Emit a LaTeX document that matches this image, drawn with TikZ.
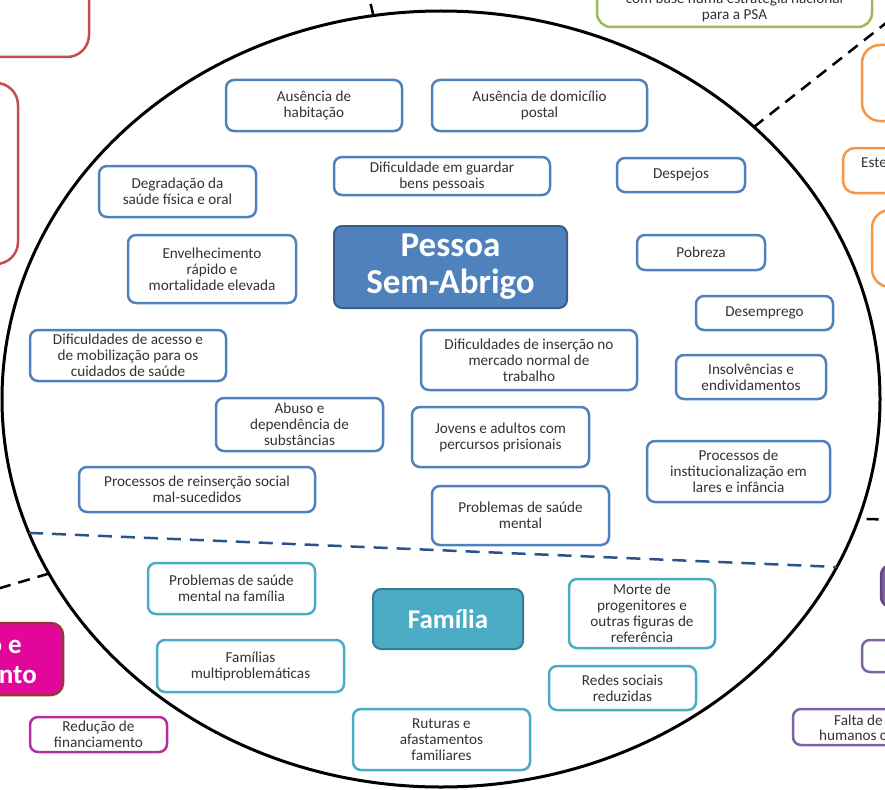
\documentclass[tikz,border=0pt]{standalone}
\usepackage{fontspec}
\setmainfont{Carlito}
\usetikzlibrary{shapes.geometric}
\definecolor{causeblue}{HTML}{4F81BD}
\definecolor{psaedge}{HTML}{385D8A}
\definecolor{famteal}{HTML}{4BACC6}
\definecolor{famedge}{HTML}{357D91}
\definecolor{linenavy}{HTML}{2B538A}
\definecolor{txtgray}{HTML}{333333}
\definecolor{outred}{HTML}{C0504D}
\definecolor{outgreen}{HTML}{9BBB59}
\definecolor{outorange}{HTML}{F79646}
\definecolor{outpurple}{HTML}{8064A2}
\definecolor{purpedge}{HTML}{5F4B7E}
\definecolor{outmagenta}{HTML}{E3069A}
\definecolor{magedge}{HTML}{943634}
\definecolor{finmagenta}{HTML}{B42FA0}
\begin{document}
\begin{tikzpicture}[x=1pt, y=-1pt,
  box/.style={rounded corners=8pt, line width=2.5pt, fill=white, text=txtgray,
    align=center, inner sep=0pt, font=\fontsize{15.2}{16}\selectfont},
  cause/.style={box, draw=causeblue},
  famcause/.style={box, draw=famteal},
  outbox/.style={rounded corners=22pt, line width=2.5pt, fill=white, inner sep=0pt},
  txt/.style={text=txtgray, inner sep=0pt, align=center, font=\fontsize{15.2}{16}\selectfont},
  bigtxt/.style={text=white, inner sep=0pt, font=\bfseries\fontsize{27}{30}\selectfont},
  border/.style={black, line width=2.5pt, dash pattern=on 12pt off 8pt},
  split/.style={linenavy, line width=2.5pt, dash pattern=on 14pt off 9pt}]
  \useasboundingbox (0,0) rectangle (885,789);
  \clip (0,0) rectangle (885,789);

  \node[draw, ellipse, line width=3pt, outer sep=0pt, minimum width=878, minimum height=776] (circ) at (441,399) {};
  \coordinate (n end) at (365,-20);
  \coordinate (ne end) at (900,12);
  \coordinate (sw end) at (-20,594);
  \coordinate (e end) at (900,520);
  \draw[border] (circ.100) -- (n end);
  \draw[border] (circ.41.6) -- (ne end);
  \draw[border] (circ.204.8) -- (sw end);
  \draw[border, dash phase=12pt] (circ.-16.1) -- (e end);
  \draw[split] (circ.198.6) -- (circ.-23.8);

  % caixas de fora
  \node[outbox, draw=outred, minimum width=209, minimum height=117] (red a) at (-15.5,-1.5) {};
  \node[outbox, draw=outred, minimum width=168, minimum height=181] (red b) at (-66,173.5) {};
  \node[outbox, draw=outgreen, rounded corners=14pt, minimum width=275, minimum height=80] (psa plan) at (734.5,-13) {};
  \node[txt] (psa plan text) at (734.5,7) {com base numa estratégia nacional\\para a PSA};
  \node[outbox, draw=outorange, rounded corners=18pt, minimum width=138, minimum height=76] (orange a) at (931,83) {};
  \node[outbox, draw=outorange, rounded corners=12pt, minimum width=157, minimum height=45] (orange b) at (921.5,170.5) {};
  \node[txt, anchor=west] (orange b text) at (861,163) {Este};
  \node[outbox, draw=outorange, rounded corners=18pt, minimum width=128, minimum height=77] (orange c) at (936,248.5) {};
  \node[outbox, draw=purpedge, fill=outpurple, rounded corners=10pt, minimum width=118, minimum height=42] (purple a) at (940,586) {};
  \node[outbox, draw=outpurple, rounded corners=8pt, minimum width=138, minimum height=32] (purple b) at (931,656) {};
  \node[outbox, draw=outpurple, rounded corners=8pt, minimum width=207, minimum height=36] (purple c) at (896.5,727) {};
  \node[txt, anchor=west] (purple c top) at (834,720) {Falta de};
  \node[txt, anchor=west] (purple c bottom) at (819,735) {humanos c};
  \node[outbox, draw=magedge, fill=outmagenta, rounded corners=12pt, minimum width=213, minimum height=72] (funding) at (-43.5,659) {};
  \node[bigtxt, anchor=east] (funding top) at (22,647) {o e};
  \node[bigtxt, anchor=east] (funding bottom) at (37,675) {nto};
  \node[box, draw=finmagenta, minimum width=137, minimum height=35] (cut) at (98.5,734.5) {Redução de\\financiamento};

  % pessoa sem-abrigo
  \node[box, draw=psaedge, fill=causeblue, text=white, line width=2pt,
    font=\bfseries\fontsize{35}{37}\selectfont, minimum width=233, minimum height=82] (psa) at (450.5,267) {Pessoa\\Sem-Abrigo};
  \node[cause, minimum width=176, minimum height=51] (housing) at (314,105.5) {Ausência de\\habitação};
  \node[cause, minimum width=215, minimum height=51] (address) at (539.5,105.5) {Ausência de domicílio\\postal};
  \node[cause, minimum width=216, minimum height=38] (belongings) at (442,176) {Dificuldade em guardar\\bens pessoais};
  \node[cause, minimum width=128, minimum height=34] (evictions) at (681,175) {Despejos};
  \node[cause, minimum width=157, minimum height=51] (health) at (177.5,191.5) {Degradação da\\saúde física e oral};
  \node[cause, minimum width=168, minimum height=68] (ageing) at (212,269) {Envelhecimento\\rápido e\\mortalidade elevada};
  \node[cause, minimum width=128, minimum height=35] (poverty) at (701,252.5) {Pobreza};
  \node[cause, minimum width=137, minimum height=34] (unemployment) at (764.5,313) {Desemprego};
  \node[cause, minimum width=196, minimum height=51] (care) at (128,355.5) {Dificuldades de acesso e\\de mobilização para os\\cuidados de saúde};
  \node[cause, minimum width=216, minimum height=60] (labour) at (529,360) {Dificuldades de inserção no\\mercado normal de\\trabalho};
  \node[cause, minimum width=150, minimum height=44] (debt) at (751,377) {Insolvências e\\endividamentos};
  \node[cause, minimum width=167, minimum height=53] (abuse) at (299.5,424.5) {Abuso e\\dependência de\\substâncias};
  \node[cause, minimum width=177, minimum height=60] (prison) at (500.5,437) {Jovens e adultos com\\percursos prisionais};
  \node[cause, minimum width=236, minimum height=45] (reinsertion) at (197,489.5) {Processos de reinserção social\\mal-sucedidos};
  \node[cause, minimum width=183, minimum height=61] (institution) at (738.5,471.5) {Processos de\\institucionalização em\\lares e infância};
  \node[cause, minimum width=177, minimum height=59] (mental) at (520.5,515.5) {Problemas de saúde\\mental};

  % familia
  \node[box, draw=famedge, fill=famteal, text=white, line width=2pt,
    font=\bfseries\fontsize{27}{30}\selectfont, minimum width=150, minimum height=60] (family) at (448,619) {Família};
  \node[famcause, minimum width=167, minimum height=51] (fam mental) at (231.5,588.5) {Problemas de saúde\\mental na família};
  \node[famcause, minimum width=146, minimum height=69] (death) at (642,613.5) {Morte de\\progenitores e\\outras figuras de\\referência};
  \node[famcause, minimum width=187, minimum height=52] (multi) at (250.5,666) {Famílias\\multiproblemáticas};
  \node[famcause, minimum width=147, minimum height=44] (networks) at (622.5,688) {Redes sociais\\reduzidas};
  \node[famcause, minimum width=177, minimum height=61] (ruptures) at (441.5,739.5) {Ruturas e\\afastamentos\\familiares};
\end{tikzpicture}
\end{document}
